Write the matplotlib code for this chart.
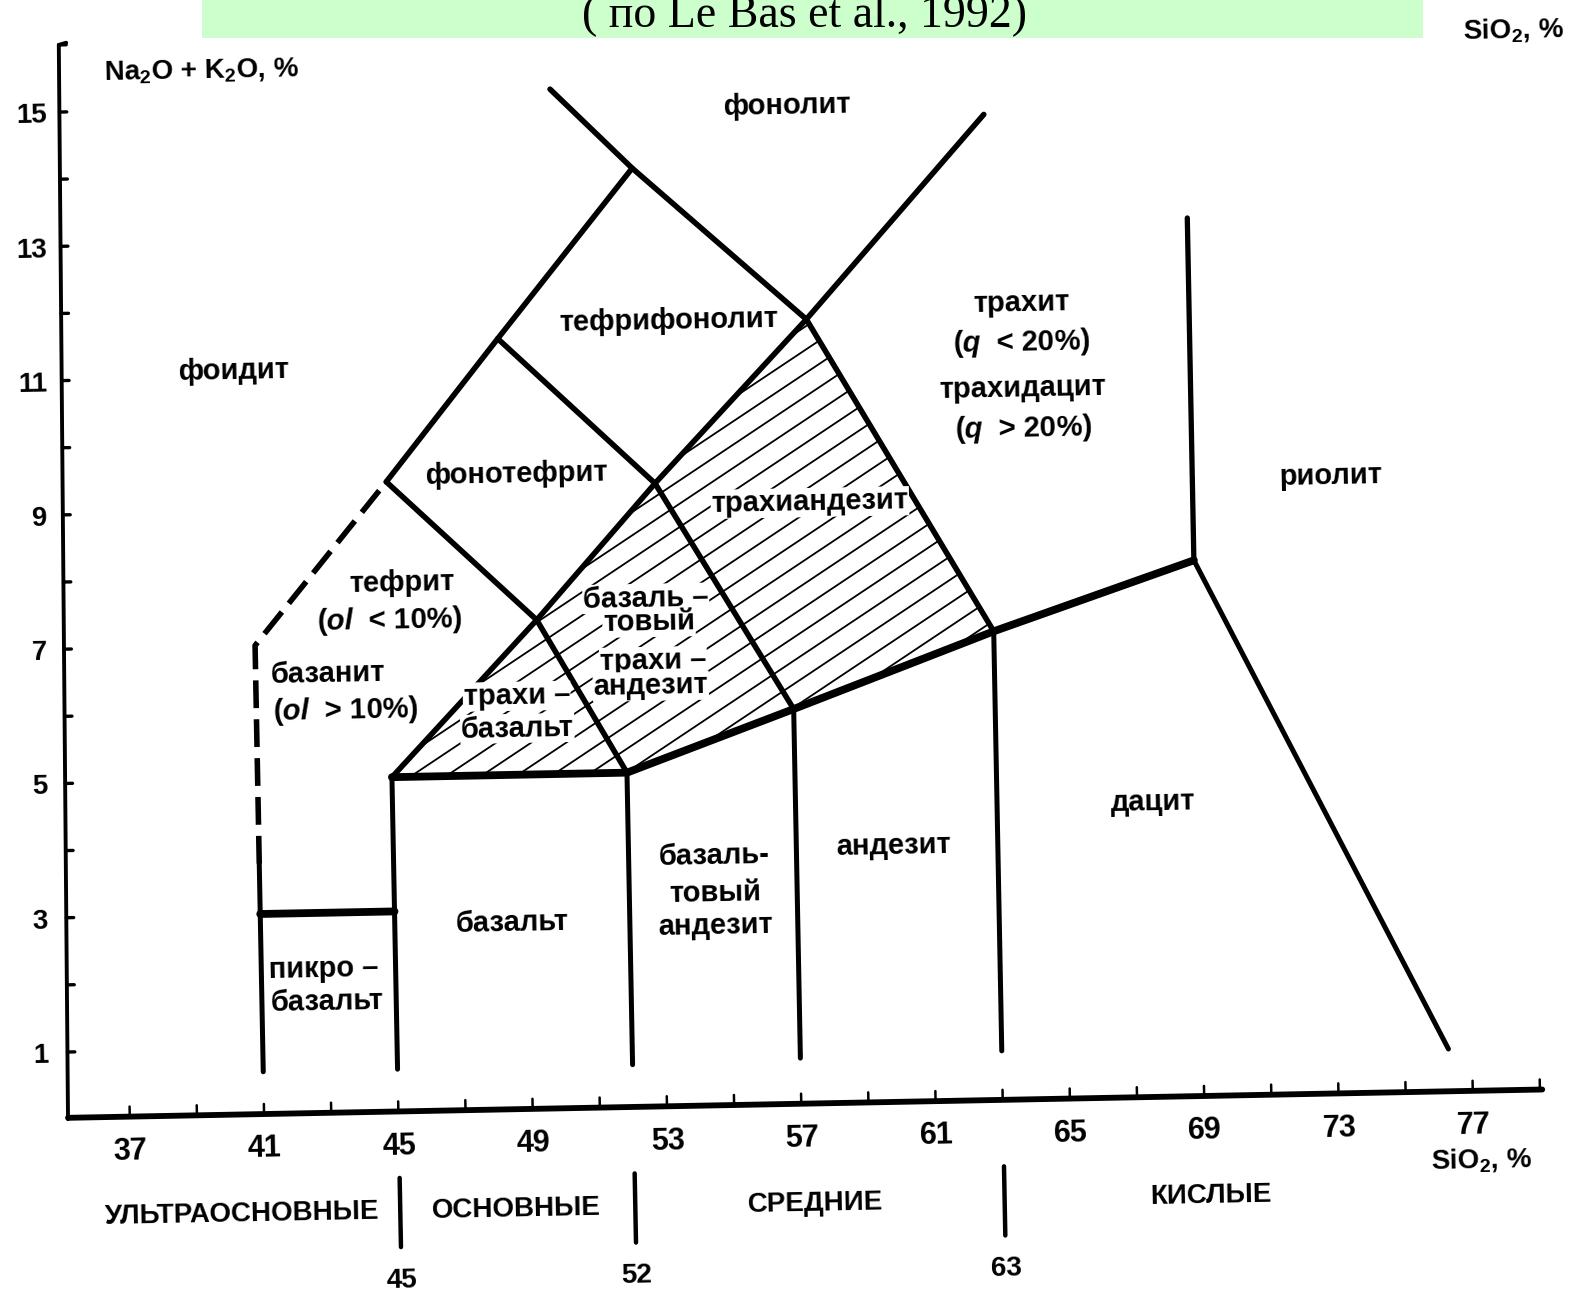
import numpy as np
import matplotlib.pyplot as plt
from matplotlib.transforms import Affine2D
from matplotlib.patches import Polygon, Rectangle

plt.rcParams['lines.scale_dashes'] = False
plt.rcParams['mathtext.fontset'] = 'custom'
plt.rcParams['mathtext.rm'] = 'Liberation Sans:bold'
plt.rcParams['mathtext.it'] = 'Liberation Sans:italic:bold'
plt.rcParams['mathtext.bf'] = 'Liberation Sans:bold'

SANS = ['Liberation Sans', 'DejaVu Sans']
NARROW = ['Liberation Sans Narrow', 'Liberation Sans', 'DejaVu Sans']

### field boundaries, SiO2 % vs Na2O+K2O %
foidite_sio2 = [45, 48.4, 52.5]
foidite_alk = [9.4, 11.5, 14.0]
dashed_sio2 = [41, 41, 45]
dashed_alk = [3.75, 7.0, 9.4]
phonolite_sio2 = [50.1, 52.5, 57.6, 63.0]
phonolite_alk = [15.2, 14.0, 11.7, 7.0]
trachyte_sio2 = [45, 49.4, 53.0, 57.6, 63.0]
trachyte_alk = [5.0, 7.3, 9.3, 11.7, 14.7]
cross1_sio2 = [45, 49.4, 52]
cross1_alk = [9.4, 7.3, 5.0]
cross2_sio2 = [48.4, 53.0, 57]
cross2_alk = [11.5, 9.3, 5.9]
base_sio2 = [45, 52, 57, 63, 69]
base_alk = [5.0, 5.0, 5.9, 7.0, 8.0]
picro_sio2 = [41, 45]
picro_alk = [3.0, 3.0]
rhyolite_sio2 = [69, 69]
rhyolite_alk = [8.0, 13.1]
dacite_sio2 = [69, 76.3]
dacite_alk = [8.0, 0.65]
vert_sio2 = [41, 45, 52, 57, 63]
vert_top = [3.75, 5.0, 5.0, 5.9, 7.0]
vert_bottom = [0.65, 0.65, 0.65, 0.7, 0.75]

# hatched trachy- fields
hatch_sio2 = [45, 49.4, 53.0, 57.6, 63.0, 57, 52]
hatch_alk = [5.0, 7.3, 9.3, 11.7, 7.0, 5.9, 5.0]

# field names
names = ['фонолит', 'тефрифонолит', 'фоидит', 'трахит', '($q$  < 20%)',
         'трахидацит', '($q$  > 20%)', 'фонотефрит', 'риолит', 'тефрит',
         '($ol$  < 10%)', 'базанит', '($ol$  > 10%)', 'пикро –', 'базальт',
         'базальт', 'базаль-', 'товый', 'андезит', 'андезит', 'дацит']
names_sio2 = [57.15, 53.5, 40.55, 64.0, 64.0, 64.0, 64.0, 48.9, 73.1, 45.4,
              45.0, 43.15, 43.65, 42.85, 42.95, 48.5, 54.55, 54.55, 54.55, 59.9, 67.65]
names_alk = [14.88, 11.72, 11.09, 11.88, 11.29, 10.61, 10.01, 9.48, 9.22, 7.89,
             7.33, 6.55, 6.0, 2.17, 1.67, 2.79, 3.74, 3.18, 2.69, 3.84, 4.41]

# names inside the hatched area
hnames = ['трахиандезит', 'базаль –', 'товый', 'трахи –', 'андезит', 'трахи –', 'базальт']
hnames_sio2 = [57.6, 52.66, 52.74, 52.84, 52.76, 48.76, 48.76]
hnames_alk = [8.97, 7.59, 7.23, 6.65, 6.28, 6.17, 5.69]

x_ticks = np.arange(37, 80, 2)
x_labels = np.arange(37, 78, 4)
y_ticks = np.arange(1, 17)
y_labels = np.arange(1, 16, 2)

groups = ['УЛЬТРАОСНОВНЫЕ', 'ОСНОВНЫЕ', 'СРЕДНИЕ', 'КИСЛЫЕ']
groups_sio2 = [40.3, 48.45, 57.35, 69.15]
group_bounds = [45, 52, 63]

####################################################################
fig = plt.figure(figsize=(15.82, 12.97), dpi=100)
ax = fig.add_axes([0, 0, 1, 1])
ax.set_xlim(33.40, 80.51)
ax.set_ylim(-2.857, 16.461)
ax.axis('off')

# the scanned drawing is turned by about one degree
ANG = 1.1
tr = ax.transData + Affine2D().rotate_deg_around(791, 649, ANG)

LW = 4.0
def line(xs, ys, lw=LW, **kw):
    ax.plot(xs, ys, color='black', lw=lw, transform=tr, clip_on=False,
            solid_capstyle='round', solid_joinstyle='miter', **kw)

def label(s, x, y, size=21, ha='center', family=SANS, **kw):
    ax.text(x, y, s, transform=tr, fontsize=size, fontweight='bold', ha=ha,
            va='center', family=family, rotation=ANG, rotation_mode='anchor',
            clip_on=False, **kw)

# hatching
poly = Polygon(np.column_stack([hatch_sio2, hatch_alk]), closed=True,
               transform=tr, fill=False, edgecolor='none')
ax.add_patch(poly)
for c in np.arange(5.17 - 0.343 * 30, 13, 0.343):
    xs = np.array([43.0, 65.0])
    hl, = ax.plot(xs, c + 0.32 * (xs - 45), color='black', lw=1.3, transform=tr)
    hl.set_clip_path(poly)

# field boundaries
line(foidite_sio2, foidite_alk)
line(dashed_sio2, dashed_alk, linestyle=(0, (20, 8)), dash_capstyle='butt')
line(phonolite_sio2, phonolite_alk)
line(trachyte_sio2, trachyte_alk)
line(cross1_sio2, cross1_alk)
line(cross2_sio2, cross2_alk)
line(base_sio2, base_alk, lw=5.6)
line(picro_sio2, picro_alk, lw=5.6)
line(rhyolite_sio2, rhyolite_alk, lw=3.8)
line(dacite_sio2, dacite_alk, lw=3.6)
for s, t, b in zip(vert_sio2, vert_top, vert_bottom):
    line([s, s], [b, t], lw=3.6)

# axes drawn by hand
line([35.16, 35.50], [0.0, 16.0], lw=2.8)
line([35.50, 35.72], [16.0, 16.03], lw=2.8)
line([35.16, 79.07], [0.02, 0.02], lw=4.2)
for t in x_ticks:
    line([t, t], [0.02, 0.17], lw=1.8)
for t in y_ticks:
    s_ax = 35.16 + 0.34 * t / 16
    line([s_ax, s_ax + 0.22], [t, t], lw=2.4)
for t in x_labels:
    label(str(t), t, -0.5, size=22, family=NARROW)
for t in y_labels:
    label(str(t), 34.6 + (t - 1) * 0.0364, t - 0.05, size=20, ha='right')

label('Na$_2$O + K$_2$O, %', 36.83, 15.58, size=20, ha='left')
label('SiO$_2$, %', 78.8, 15.81, size=20)
label('SiO$_2$, %', 77.2, -1.01, size=20)

for s, x, y in zip(names, names_sio2, names_alk):
    label(s, x, y)
for s, x, y in zip(hnames, hnames_sio2, hnames_alk):
    label(s, x, y, bbox=dict(facecolor='white', edgecolor='none', pad=0.5))

# SiO2 groups below the axis
for s, x in zip(groups, groups_sio2):
    label(s, x, -1.47, size=20, family=NARROW)
for b in group_bounds:
    line([b, b], [-0.97, -2.0], lw=3.2)
    label(str(b), b, -2.5, size=20)

# title band
fig.patches.append(Rectangle((202 / 1582, 1 - 38 / 1297), 1221 / 1582, 38 / 1297,
                             transform=fig.transFigure, facecolor='#ccffcc',
                             edgecolor='none', zorder=0))
fig.text(805 / 1582, 1 - 27 / 1297, '( по Le Bas et al., 1992)',
         fontsize=33, family=['Liberation Serif', 'DejaVu Serif'],
         ha='center', va='baseline')

fig.savefig('out.png', dpi=100, facecolor='white')
